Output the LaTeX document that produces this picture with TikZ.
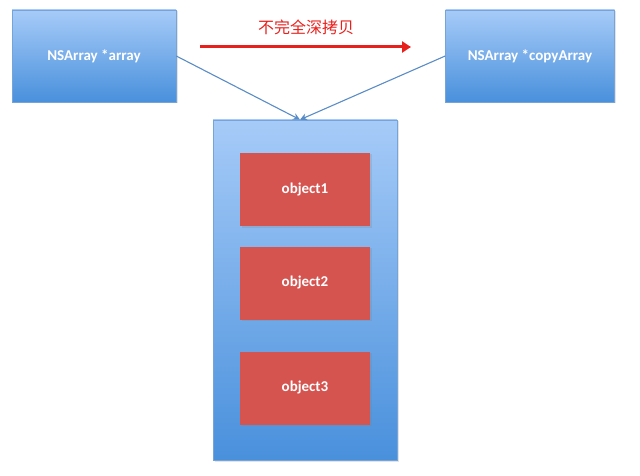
\documentclass[tikz,border=0pt]{standalone}
\usepackage{fontspec}
\setmainfont{Carlito}
\newfontfamily\cjkfont{Noto Sans CJK SC}
\usetikzlibrary{arrows.meta,shadows}

\definecolor{boxtop}{HTML}{A6CBF8}
\definecolor{boxbottom}{HTML}{4990DC}
\definecolor{boxline}{HTML}{74A4DA}
\definecolor{objred}{HTML}{D55450}
\definecolor{linkblue}{HTML}{5A8CC6}
\definecolor{copyred}{HTML}{E8201C}

\tikzset{
	arraybox/.style={draw=boxline, line width=0.6pt,
		top color=boxtop, bottom color=boxbottom,
		text=white, font=\fontsize{15}{17}\selectfont\bfseries,
		drop shadow={opacity=0.22, shadow xshift=1.5pt, shadow yshift=-1.5pt}},
	objbox/.style={fill=objred, minimum width=130pt, minimum height=73pt,
		text=white, font=\fontsize{15}{17}\selectfont\bfseries,
		drop shadow={opacity=0.22, shadow xshift=1.5pt, shadow yshift=-1.5pt}},
	link/.style={draw=linkblue, line width=1.1pt, -{Stealth[length=7pt,width=7pt]}}
}

\begin{document}
\begin{tikzpicture}[x=1pt, y=-1pt]
			\useasboundingbox (0,0) rectangle (640,476);
			% the two pointers
			\node[arraybox, minimum width=164pt, minimum height=92pt] (src) at (94,56) {NSArray *array};
			\node[arraybox, minimum width=169pt, minimum height=92pt] (dst) at (530,56) {NSArray *copyArray};
			% the shared storage
			\node[arraybox, minimum width=184pt, minimum height=340pt] (store) at (305,290) {};
			\node[objbox] (obj1) at (305,189.5) {object1};
			\node[objbox] (obj2) at (305,283) {object2};
			\node[objbox] (obj3) at (305,388) {object3};
			% copy arrow
			\coordinate (cpyfrom) at (200,47);
			\coordinate (cpyto) at (411,47);
			\draw[copyred, line width=3pt, -{Triangle[length=9pt,width=11pt]}] (cpyfrom) -- (cpyto);
			\node[text=copyred, font=\cjkfont\fontsize{16}{18}\selectfont] (cpylabel) at (306,27) {不完全深拷贝};
			% both point to the same objects
			\draw[link] (src.east) -- ([xshift=-5pt]store.north);
			\draw[link] (dst.west) -- ([xshift=-5pt]store.north);
		\end{tikzpicture}
\end{document}
